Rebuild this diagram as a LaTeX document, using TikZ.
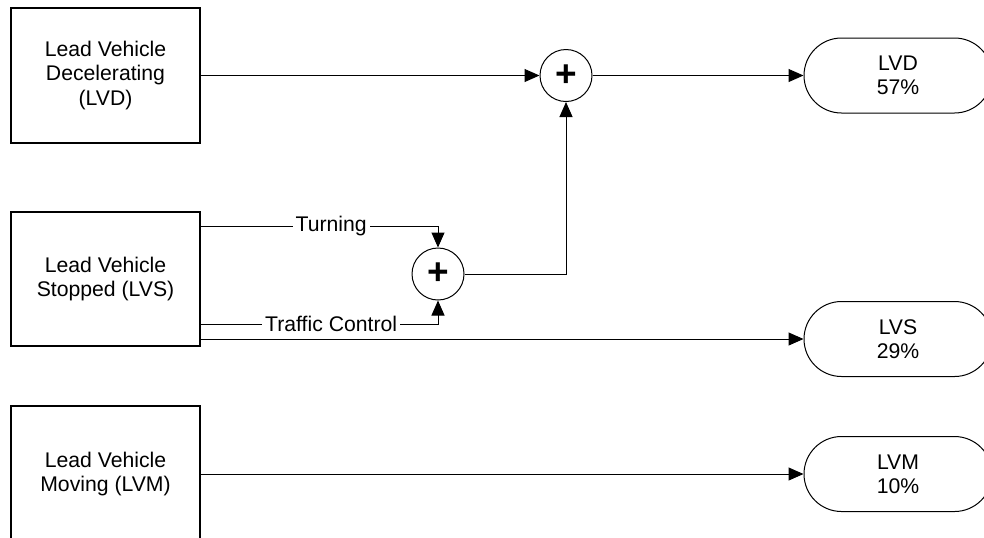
\documentclass[tikz,border=0pt]{standalone}
\usepackage{fontspec}
\setmainfont{Liberation Sans}
\usetikzlibrary{arrows.meta}
\begin{document}
\begin{tikzpicture}[x=0.5pt,y=-0.5pt,
  every node/.style={font=\fontsize{10.6}{12.2}\selectfont, align=center, inner sep=0pt},
  box/.style={draw, line width=0.6pt, minimum width=94.5pt},
  term/.style={draw, line width=0.5pt, rounded corners=18.75pt, minimum width=94pt, minimum height=37.5pt},
  sumc/.style={draw, circle, line width=0.5pt, minimum size=26pt, font=\fontsize{18.5}{18.5}\selectfont\bfseries},
  conn/.style={line width=0.5pt},
  arr/.style={conn, -{Triangle[length=7.5pt,width=6.5pt]}},
  lbl/.style={fill=white, inner xsep=1.5pt, inner ysep=1pt}
]
\useasboundingbox (0,0) rectangle (984,537);
\clip (0,0) rectangle (984,537);

\node[box, minimum height=67.5pt] (b1) at (105.5,75.5) {Lead Vehicle\\Decelerating\\(LVD)};
\node[box, minimum height=67pt] (b2) at (105.5,279) {Lead Vehicle\\Stopped (LVS)};
\node[box, minimum height=68pt] (b3) at (105.5,474) {Lead Vehicle\\Moving (LVM)};

\node[sumc] (c1) at (566,75.5) {+};
\node[sumc] (c2) at (438,274) {+};

\node[term] (t1) at (898,75.5) {LVD\\57\%};
\node[term] (t2) at (898,339) {LVS\\29\%};
\node[term] (t3) at (898,474) {LVM\\10\%};

\coordinate (tA) at (b2.east |- 0,226);
\coordinate (tB) at (c2.north |- 0,226);
\coordinate (fA) at (b2.east |- 0,324);
\coordinate (fB) at (c2.south |- 0,324);
\coordinate (sA) at (b2.east |- 0,339);

\draw[arr] (b1.east) -- (c1.west);
\draw[arr] (c1.east) -- (t1.west);
\draw[arr] (tA) -- node[lbl, pos=0.55] (lt) {Turning} (tB) -- (c2.north);
\draw[arr] (fA) -- node[lbl, pos=0.55] (lf) {Traffic Control} (fB) -- (c2.south);
\draw[arr] (sA) -- (t2.west);
\draw[arr] (c2.east) -| (c1.south);
\draw[arr] (b3.east) -- (t3.west);
\end{tikzpicture}
\end{document}
